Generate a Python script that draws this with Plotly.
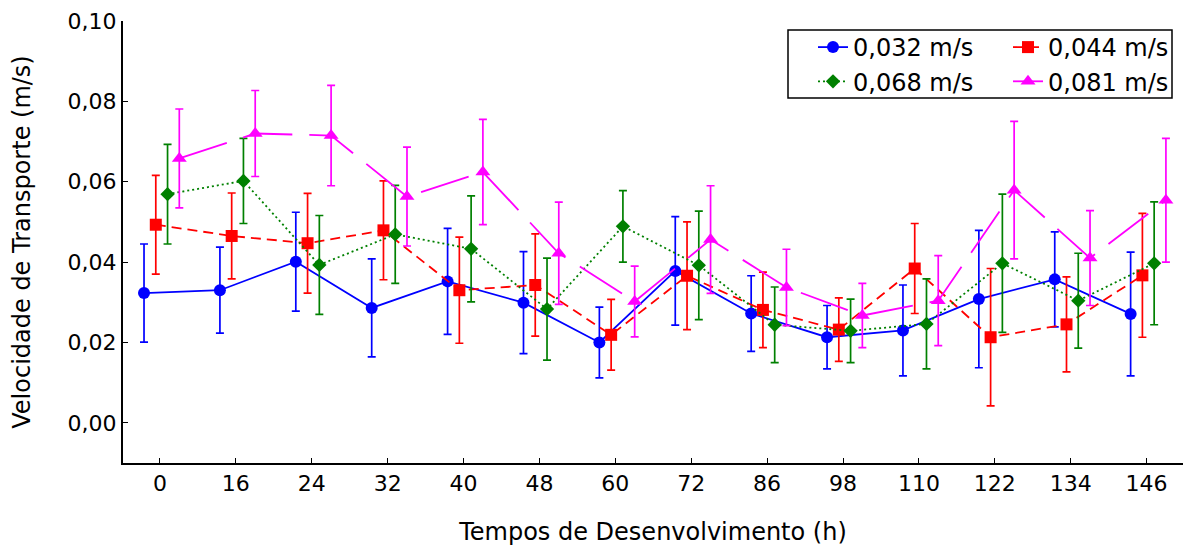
import plotly.graph_objects as go

categories = ["0", "16", "24", "32", "40", "48", "60", "72", "86", "98", "110", "122", "134", "146"]

series_names = ["0,032 m/s", "0,044 m/s", "0,068 m/s", "0,081 m/s"]

v032 = [0.0323, 0.0330, 0.0401, 0.0286, 0.0352, 0.0299, 0.0200, 0.0378, 0.0272, 0.0213, 0.0230, 0.0308, 0.0357, 0.0271]
e032 = [0.0122, 0.0107, 0.0123, 0.0122, 0.0132, 0.0127, 0.0088, 0.0135, 0.0094, 0.0079, 0.0113, 0.0171, 0.0118, 0.0154]

v044 = [0.0493, 0.0465, 0.0447, 0.0479, 0.0330, 0.0343, 0.0219, 0.0366, 0.0281, 0.0232, 0.0384, 0.0213, 0.0245, 0.0367]
e044 = [0.0123, 0.0107, 0.0124, 0.0123, 0.0132, 0.0127, 0.0088, 0.0134, 0.0094, 0.0079, 0.0112, 0.0171, 0.0118, 0.0154]

v068 = [0.0569, 0.0602, 0.0393, 0.0469, 0.0433, 0.0283, 0.0489, 0.0392, 0.0244, 0.0229, 0.0246, 0.0397, 0.0304, 0.0397]
e068 = [0.0124, 0.0106, 0.0123, 0.0122, 0.0132, 0.0127, 0.0089, 0.0135, 0.0094, 0.0079, 0.0112, 0.0172, 0.0118, 0.0153]

v081 = [0.0658, 0.0720, 0.0715, 0.0563, 0.0624, 0.0422, 0.0302, 0.0456, 0.0337, 0.0267, 0.0304, 0.0579, 0.0410, 0.0554]
e081 = [0.0123, 0.0107, 0.0125, 0.0123, 0.0131, 0.0127, 0.0088, 0.0134, 0.0095, 0.0080, 0.0112, 0.0171, 0.0118, 0.0154]

values = [v032, v044, v068, v081]
errors = [e032, e044, e068, e081]

colors = ["#0000FF", "#FF0000", "#008000", "#FF00FF"]
offsets = [-0.21, -0.055, 0.10, 0.255]
dashes = ["solid", "10px,6px", "2px,3px", "50px,17px"]
symbols = ["circle", "square", "diamond", "triangle-up"]
msizes = [12, 12, 11, 13]
legends = ["legend", "legend2", "legend", "legend2"]

FONT = "DejaVu Sans"

fig = go.Figure()
for i in range(4):
    xs = [k + offsets[i] for k in range(len(categories))]
    fig.add_trace(go.Scatter(
        x=xs, y=values[i], name=series_names[i], mode="lines+markers",
        line=dict(color=colors[i], width=1.8, dash=dashes[i]),
        marker=dict(symbol=symbols[i], size=msizes[i], color=colors[i]),
        error_y=dict(type="data", array=errors[i], visible=True,
                     color=colors[i], thickness=1.7, width=4),
        legend=legends[i],
    ))

W, H = 1183, 548
L, R, T, B = 123, 0, 21, 85
pw, ph = W - L - R, H - T - B

def px_x(p):
    return (p - L) / pw

def px_y(p):
    return (H - B - p) / ph

legend_font = dict(family=FONT, size=24, color="black")

fig.update_layout(
    width=W, height=H,
    margin=dict(l=L, r=R, t=T, b=B, pad=0, autoexpand=False),
    paper_bgcolor="white", plot_bgcolor="white",
    separators=",.",
    font=dict(family=FONT, size=22, color="black"),
    showlegend=True,
    legend=dict(x=px_x(813), y=px_y(25), xanchor="left", yanchor="top",
                bgcolor="rgba(0,0,0,0)", borderwidth=0, font=legend_font,
                tracegroupgap=0, itemsizing="trace"),
    legend2=dict(x=px_x(1008), y=px_y(25), xanchor="left", yanchor="top",
                 bgcolor="rgba(0,0,0,0)", borderwidth=0, font=legend_font,
                 tracegroupgap=0, itemsizing="trace"),
    shapes=[dict(type="rect", xref="paper", yref="paper",
                 x0=px_x(788), x1=px_x(1172), y0=px_y(98), y1=px_y(30),
                 line=dict(color="black", width=1.5), fillcolor="white",
                 layer="above")],
    xaxis=dict(
        range=[-0.487, 13.48],
        tickmode="array", tickvals=list(range(len(categories))), ticktext=categories,
        ticks="inside", ticklen=5, tickwidth=1, tickcolor="black",
        showline=True, linecolor="black", linewidth=2,
        showgrid=False, zeroline=False,
        tickfont=dict(family=FONT, size=22, color="black"),
        title=dict(text="Tempos de Desenvolvimento (h)",
                   font=dict(family=FONT, size=24, color="black"), standoff=28),
    ),
    yaxis=dict(
        range=[-0.01, 0.10], tick0=0, dtick=0.02, tickformat=".2f",
        ticks="inside", ticklen=5, tickwidth=1, tickcolor="black",
        showline=True, linecolor="black", linewidth=2,
        showgrid=False, zeroline=False,
        tickfont=dict(family=FONT, size=22, color="black"),
        title=dict(text="Velocidade de Transporte (m/s)",
                   font=dict(family=FONT, size=24, color="black"), standoff=30),
    ),
)

fig.write_html("out.html", config={"displayModeBar": False},
               post_script="document.body.style.margin='0px';document.body.style.overflow='hidden';")
